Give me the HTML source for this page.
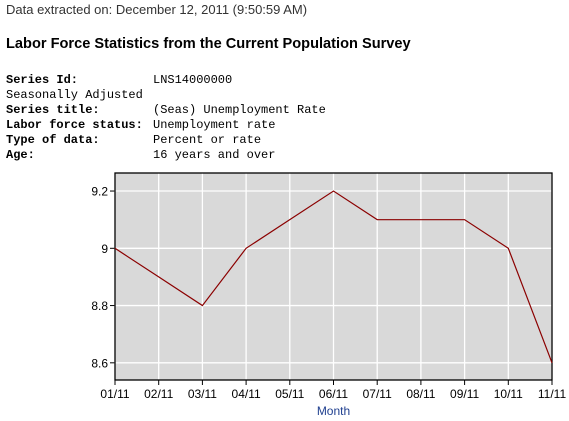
<!DOCTYPE html>
<html><head><meta charset="utf-8">
<style>
body{margin:0;width:569px;height:421px;background:#fff;position:relative;overflow:hidden;font-family:"Liberation Sans",sans-serif}
.t{position:absolute;white-space:pre}
.m{font-family:"Liberation Mono",monospace;font-size:12px;color:#000}
</style></head><body>
<div class="t" style="left:6px;top:2px;font-size:13px;color:#333">Data extracted on: December 12, 2011 (9:50:59 AM)</div>
<div class="t" style="left:6px;top:36px;font-size:14.6px;font-weight:bold;color:#000">Labor Force Statistics from the Current Population Survey</div>
<div class="t m" style="left:6px;top:73px;font-weight:bold">Series Id:</div>
<div class="t m" style="left:153px;top:73px">LNS14000000</div>
<div class="t m" style="left:6px;top:88px">Seasonally Adjusted</div>
<div class="t m" style="left:6px;top:103px;font-weight:bold">Series title:</div>
<div class="t m" style="left:153px;top:103px">(Seas) Unemployment Rate</div>
<div class="t m" style="left:6px;top:118px;font-weight:bold">Labor force status:</div>
<div class="t m" style="left:153px;top:118px">Unemployment rate</div>
<div class="t m" style="left:6px;top:133px;font-weight:bold">Type of data:</div>
<div class="t m" style="left:153px;top:133px">Percent or rate</div>
<div class="t m" style="left:6px;top:148px;font-weight:bold">Age:</div>
<div class="t m" style="left:153px;top:148px">16 years and over</div>
<svg id="chart" width="569" height="421" style="position:absolute;left:0;top:0"></svg>
<script>
const categories=["01/11","02/11","03/11","04/11","05/11","06/11","07/11","08/11","09/11","10/11","11/11"];
const values=[9.0,8.9,8.8,9.0,9.1,9.2,9.1,9.1,9.1,9.0,8.6];
const yTicks=[8.6,8.8,9,9.2];
const yTickLabels=["8.6","8.8","9","9.2"];
const L=115,R=552,T=173,B=380,yMin=8.54,yMax=9.263;
const svg=document.getElementById('chart');
const NS='http://www.w3.org/2000/svg';
function x(i){return L+(R-L)*i/(categories.length-1);}
function y(v){return B-(v-yMin)/(yMax-yMin)*(B-T);}
function mk(tag,attrs,parent){const e=document.createElementNS(NS,tag);for(const k in attrs)e.setAttribute(k,attrs[k]);(parent||svg).appendChild(e);return e;}
const bg=mk('rect',{x:L,y:T,width:R-L,height:B-T,fill:'#d9d9d9'});


yTicks.forEach((v,i)=>{
  const g=mk('line',{x1:L,x2:R,y1:y(v),y2:y(v),stroke:'#fff','stroke-width':1.3});
  
  
  mk('line',{x1:L-5,x2:L,y1:y(v),y2:y(v),stroke:'#000'});
  const t=mk('text',{x:L-7,y:y(v)+4.5,'text-anchor':'end','font-size':12,'font-family':'Liberation Sans, sans-serif',fill:'#000'});
  t.textContent=yTickLabels[i];
  
  
});
categories.forEach((c,i)=>{
  const g=mk('line',{x1:x(i),x2:x(i),y1:T,y2:B,stroke:'#fff','stroke-width':1.3});
  
  
  mk('line',{x1:x(i),x2:x(i),y1:B,y2:B+5,stroke:'#000'});
  const t=mk('text',{x:x(i),y:B+18,'text-anchor':'middle','font-size':12,'font-family':'Liberation Sans, sans-serif',fill:'#000'});
  t.textContent=c;
  
  
});
const border=mk('rect',{x:L,y:T,width:R-L,height:B-T,fill:'none',stroke:'#000','stroke-width':1.3});


const line=mk('polyline',{points:values.map((v,i)=>x(i)+','+y(v)).join(' '),fill:'none',stroke:'#8b0000','stroke-width':1.2});


const xt=mk('text',{x:(L+R)/2,y:415,'text-anchor':'middle','font-size':12,'font-family':'Liberation Sans, sans-serif',fill:'#1f3f8f'});
xt.textContent='Month';


</script>
</body></html>
